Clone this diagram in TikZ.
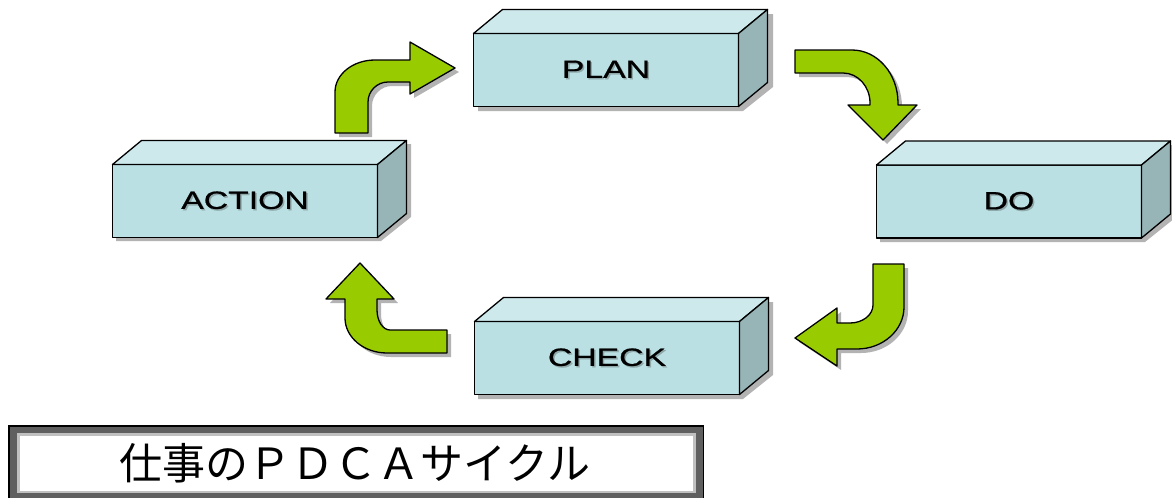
\documentclass[tikz,border=0pt]{standalone}
\usepackage{fontspec}
\setmainfont{Liberation Sans}
\newfontfamily\boxfont[FakeStretch=1.35,FakeBold=0.8]{Liberation Sans}
\newfontfamily\cjk{Noto Sans CJK JP}
\definecolor{frontc}{HTML}{BBE0E3}
\definecolor{topc}{HTML}{CDE9EC}
\definecolor{sidec}{HTML}{97B4B7}
\definecolor{arrowg}{HTML}{99CC00}
\definecolor{shadowc}{HTML}{A0A0A0}
\definecolor{textshadow}{HTML}{8FA9AB}
\definecolor{framedark}{HTML}{5F5F5F}
\definecolor{framelight}{HTML}{C0C0C0}
\tikzset{
  faceline/.style={draw=black, line width=1.3pt, line join=round},
  frontface/.style={faceline, fill=frontc, minimum width=265pt, minimum height=73pt,
     inner sep=0pt, outer sep=0pt, font=\boxfont\fontsize{25}{30}\selectfont},
  topface/.style={faceline, fill=topc},
  sideface/.style={faceline, fill=sidec},
  boxshadow/.style={fill=shadowc, opacity=0.8},
  greenarrow/.style={draw=black, line width=1.3pt, line join=round, fill=arrowg},
  arrowshadow/.style={fill=shadowc, opacity=0.8},
}
\newcommand\shtext[1]{\leavevmode\rlap{\kern1.5pt\raisebox{-1.5pt}{\textcolor{textshadow}{#1}}}#1}
\newcommand\cuboidfaces[1]{%
  \filldraw[topface] (#1.north west) -- ++(29,-24) -- ([shift={(29,-24)}]#1.north east) -- (#1.north east) -- cycle;
  \filldraw[sideface] (#1.north east) -- ++(29,-24) -- ([shift={(29,-24)}]#1.south east) -- (#1.south east) -- cycle;
}
\newcommand\bentarrow[1]{%
  \fill[arrowshadow, shift={(4,4)}] #1;
  \filldraw[greenarrow] #1;
}
\begin{document}
\begin{tikzpicture}[x=1pt,y=-1pt]
\useasboundingbox (0,0) rectangle (1172,498);

% boxes: shadows first
\fill[boxshadow] (478,38) -- (507,14) -- (773,14) -- (773,87) -- (743,111) -- (478,111) -- cycle;
\fill[boxshadow] (116,168) -- (145,144) -- (411,144) -- (411,217) -- (381,241) -- (116,241) -- cycle;
\fill[boxshadow] (880,169) -- (909,145) -- (1175,145) -- (1175,218) -- (1145,242) -- (880,242) -- cycle;
\fill[boxshadow] (478,326) -- (507,302) -- (773,302) -- (773,375) -- (743,399) -- (478,399) -- cycle;

\node[frontface] (plan) at (606,70) {\shtext{PLAN}};
\node[frontface] (action) at (245,201) {\shtext{ACTION}};
\node[frontface] (do) at (1009,201.5) {\shtext{DO}};
\node[frontface] (check) at (607,358) {\shtext{CHECK}};
\cuboidfaces{plan}
\cuboidfaces{action}
\cuboidfaces{do}
\cuboidfaces{check}

% arrows
% ACTION -> PLAN
\bentarrow{(335,133) -- (335,92) .. controls (335,74.3) and (352.9,60) .. (375,60)
  -- (410,60) -- (410,42) -- (455,68) -- (410,94) -- (410,82) -- (388,82)
  .. controls (377,82) and (368,91) .. (368,102) -- (368,133) -- cycle}
% PLAN -> DO
\bentarrow{(795,50) -- (852,50) .. controls (877.4,50) and (898,73.7) .. (898,103)
  -- (898,105) -- (917,105) -- (883,140) -- (848,105) -- (870,105) -- (870,103)
  .. controls (870,86.4) and (857.9,73) .. (843,73) -- (795,73) -- cycle}
% DO -> CHECK
\bentarrow{(873,264) -- (904,264) -- (904,307) .. controls (904,330.2) and (882.9,349) .. (857,349)
  -- (837,349) -- (837,366) -- (795,338) -- (837,308) -- (837,323) -- (850,323)
  .. controls (862.7,323) and (873,314.9) .. (873,305) -- cycle}
% CHECK -> ACTION
\bentarrow{(447,330) -- (447,353) -- (387,353) .. controls (363.8,353) and (345,337.3) .. (345,318)
  -- (345,299) -- (326,299) -- (360,263) -- (394,299) -- (377,299) -- (377,310)
  .. controls (377,321) and (382.8,330) .. (390,330) -- cycle}

% title frame
\fill[black] (8,425) rectangle (704,498);
\fill[framedark] (9.5,426.5) rectangle (702.5,498);
\fill[framelight] (17,432.5) rectangle (696,493);
\fill[white] (20,435.5) rectangle (693,491);
\node[font=\cjk\fontsize{43}{50}\selectfont, inner sep=0pt] (title) at (355,463) {仕事のＰＤＣＡサイクル};
\end{tikzpicture}
\end{document}
